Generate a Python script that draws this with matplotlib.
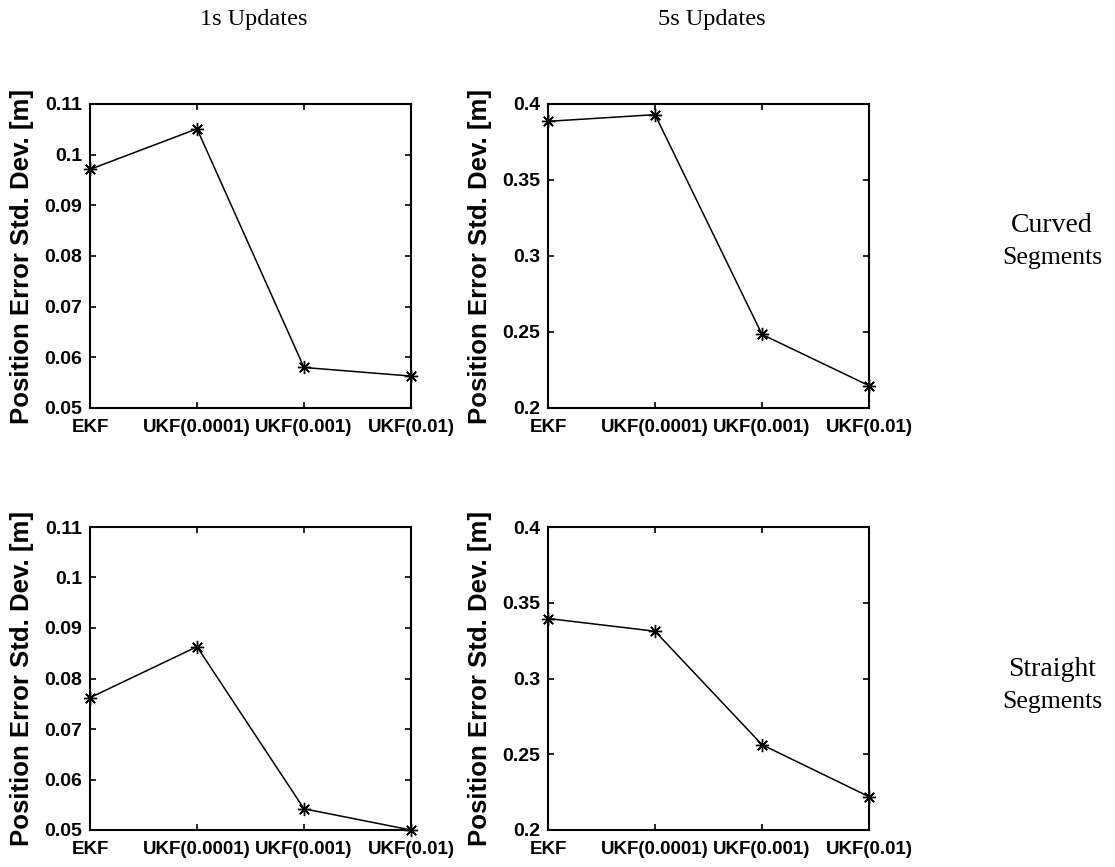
import matplotlib
matplotlib.use("Agg")
import matplotlib.pyplot as plt

filters = ["EKF", "UKF(0.0001)", "UKF(0.001)", "UKF(0.01)"]
curved_1s = [0.0971, 0.1051, 0.0580, 0.0563]
curved_5s = [0.3886, 0.3930, 0.2484, 0.2147]
straight_1s = [0.0762, 0.0863, 0.0542, 0.0500]
straight_5s = [0.3396, 0.3312, 0.2563, 0.2220]
yticks_1s = [0.05, 0.06, 0.07, 0.08, 0.09, 0.1, 0.11]
yticks_5s = [0.2, 0.25, 0.3, 0.35, 0.4]
col_titles = ["1s Updates", "5s Updates"]
row_titles = [("Curved", "Segments"), ("Straight", "Segments")]
ylabel = "Position Error Std. Dev. [m]"

W, H = 1115, 867
fig = plt.figure(figsize=(W / 100, H / 100), dpi=100)

def px_axes(l, t, r, b):
    return fig.add_axes([l / W, 1 - b / H, (r - l) / W, (b - t) / H])

boxes = [
    (90, 104, 411, 408), (548, 104, 869, 408),
    (90, 527, 411, 830), (548, 527, 869, 830),
]
data = [curved_1s, curved_5s, straight_1s, straight_5s]
ytks = [yticks_1s, yticks_5s, yticks_1s, yticks_5s]

sans = "Liberation Sans"
serif = "Liberation Serif"

for box, vals, yt in zip(boxes, data, ytks):
    ax = px_axes(*box)
    x = list(range(len(filters)))
    ax.plot(x, vals, color="black", lw=1.1, marker=(8, 2, 0), ms=9.5, mew=1.0, clip_on=False, zorder=5)
    ax.set_xlim(0, len(filters) - 1)
    ax.set_ylim(yt[0], yt[-1])
    ax.set_xticks(x)
    ax.set_xticklabels(filters, fontfamily=sans, fontweight="bold", fontsize=13.5)
    ax.set_yticks(yt)
    ax.set_yticklabels([f"{v:g}" for v in yt], fontfamily=sans, fontweight="bold", fontsize=14)
    ax.tick_params(axis="x", direction="in", top=True, length=4, width=1.2, pad=8)
    ax.tick_params(axis="y", direction="in", right=True, length=4, width=1.2, pad=5.5)
    for s in ax.spines.values():
        s.set_linewidth(1.5)
    ax.set_ylabel(ylabel, fontfamily=sans, fontweight="bold", fontsize=18.5)
    ax.yaxis.set_label_coords(-0.176, 0.5)

fig.text(254 / W, 1 - 20 / H, col_titles[0], ha="center", va="center", fontfamily=serif, fontsize=17.5)
fig.text(712 / W, 1 - 20 / H, col_titles[1], ha="center", va="center", fontfamily=serif, fontsize=17.5)
for (a, b), yc in zip(row_titles, [226, 670]):
    fig.text(1052 / W, 1 - yc / H, a, ha="center", va="center", fontfamily=serif, fontsize=20)
    fig.text(1052 / W, 1 - (yc + 32) / H, b, ha="center", va="center", fontfamily=serif, fontsize=18.5)

fig.savefig("out.png", dpi=100, facecolor="white")
